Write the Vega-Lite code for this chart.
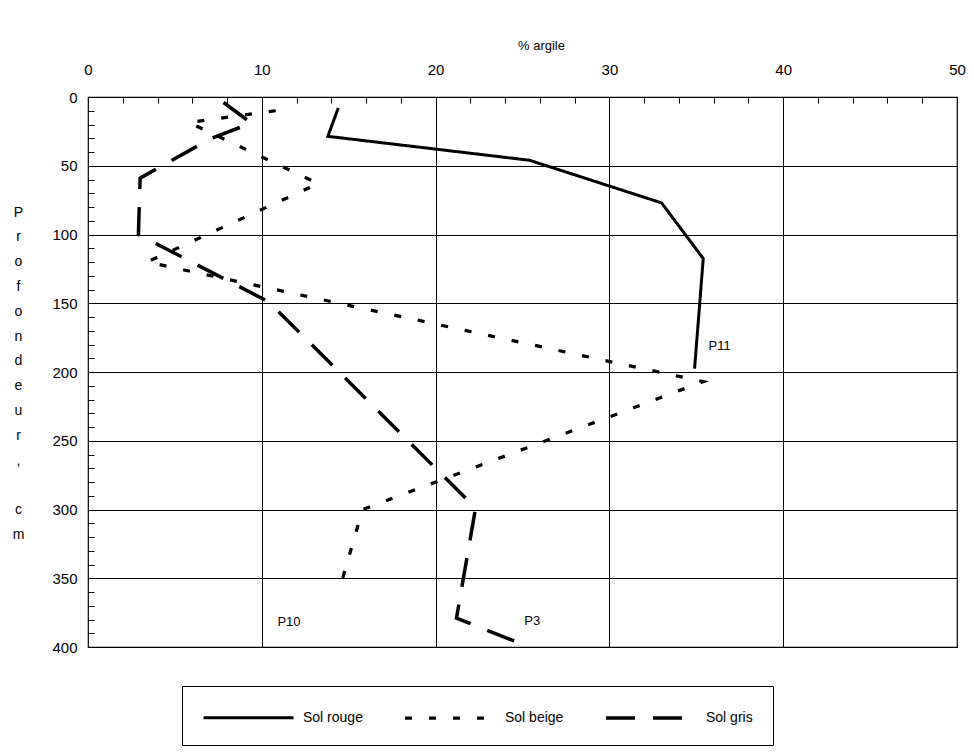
{
  "$schema": "https://vega.github.io/schema/vega-lite/v6.json",
  "autosize": {"type": "none"},
  "width": 869,
  "height": 550,
  "padding": {"left": 88, "top": 97, "right": 17, "bottom": 105},
  "background": "white",
  "config": {"view": {"stroke": "black", "strokeWidth": 1.2}, "font": "Liberation Sans"},
  "resolve": {"axis": {"x": "independent", "y": "independent"}},
  "layer": [
    {
      "data": {
        "values": [
          {"sol": "Sol rouge", "n": 1, "argile": 14.4, "profondeur": 8},
          {"sol": "Sol rouge", "n": 2, "argile": 13.8, "profondeur": 28.6},
          {"sol": "Sol rouge", "n": 3, "argile": 25.4, "profondeur": 46},
          {"sol": "Sol rouge", "n": 4, "argile": 33.0, "profondeur": 77},
          {"sol": "Sol rouge", "n": 5, "argile": 35.4, "profondeur": 117.5},
          {"sol": "Sol rouge", "n": 6, "argile": 34.9, "profondeur": 197.5},
          {"sol": "Sol beige", "n": 1, "argile": 10.8, "profondeur": 10},
          {"sol": "Sol beige", "n": 2, "argile": 5.8, "profondeur": 18.5},
          {"sol": "Sol beige", "n": 3, "argile": 13.25, "profondeur": 63},
          {"sol": "Sol beige", "n": 4, "argile": 3.4, "profondeur": 120},
          {"sol": "Sol beige", "n": 5, "argile": 35.4, "profondeur": 207},
          {"sol": "Sol beige", "n": 6, "argile": 15.8, "profondeur": 300},
          {"sol": "Sol beige", "n": 7, "argile": 14.4, "profondeur": 361},
          {"sol": "Sol gris", "n": 1, "argile": 7.8, "profondeur": 4},
          {"sol": "Sol gris", "n": 2, "argile": 9.4, "profondeur": 19},
          {"sol": "Sol gris", "n": 3, "argile": 7.1, "profondeur": 30},
          {"sol": "Sol gris", "n": 4, "argile": 3.0, "profondeur": 59},
          {"sol": "Sol gris", "n": 5, "argile": 2.9, "profondeur": 100},
          {"sol": "Sol gris", "n": 6, "argile": 10.4, "profondeur": 149},
          {"sol": "Sol gris", "n": 7, "argile": 22.3, "profondeur": 299},
          {"sol": "Sol gris", "n": 8, "argile": 21.2, "profondeur": 379},
          {"sol": "Sol gris", "n": 9, "argile": 24.9, "profondeur": 397.5}
        ]
      },
      "mark": {"type": "line", "strokeCap": "butt", "strokeJoin": "miter", "color": "black"},
      "encoding": {
        "x": {
          "field": "argile",
          "type": "quantitative",
          "scale": {"domain": [0, 50], "nice": false, "zero": false},
          "axis": {
            "orient": "top",
            "values": [0, 2, 4, 6, 8, 10, 12, 14, 16, 18, 20, 22, 24, 26, 28, 30, 32, 34, 36, 38, 40, 42, 44, 46, 48, 50],
            "labelExpr": "datum.value % 10 === 0 ? datum.label : ''",
            "grid": true,
            "gridColor": "black",
            "gridWidth": 1,
            "gridOpacity": {"condition": {"test": "datum.value % 10 === 0 && datum.value > 0 && datum.value < 50", "value": 1}, "value": 0},
            "tickSize": -6,
            "tickColor": "black",
            "tickWidth": 1,
            "domain": false,
            "labelFontSize": 15,
            "labelColor": "black",
            "labelFont": "Liberation Sans",
            "labelPadding": 26,
            "labelOverlap": false,
            "labelBound": false,
            "labelFlush": false,
            "title": "% argile",
            "titleFontSize": 13,
            "titleFontWeight": "normal",
            "titleFont": "Liberation Sans",
            "titleColor": "black",
            "titleX": 453,
            "titleY": -52,
            "titleAlign": "center",
            "titleBaseline": "middle"
          }
        },
        "y": {
          "field": "profondeur",
          "type": "quantitative",
          "scale": {"domain": [0, 400], "reverse": true, "nice": false, "zero": false},
          "axis": {
            "orient": "left",
            "values": [0, 10, 20, 30, 40, 50, 60, 70, 80, 90, 100, 110, 120, 130, 140, 150, 160, 170, 180, 190, 200, 210, 220, 230, 240, 250, 260, 270, 280, 290, 300, 310, 320, 330, 340, 350, 360, 370, 380, 390, 400],
            "labelExpr": "datum.value % 50 === 0 ? datum.label : ''",
            "grid": true,
            "gridColor": "black",
            "gridWidth": 1,
            "gridOpacity": {"condition": {"test": "datum.value % 50 === 0 && datum.value > 0 && datum.value < 400", "value": 1}, "value": 0},
            "tickSize": -6,
            "tickColor": "black",
            "tickWidth": 1,
            "domain": false,
            "labelFontSize": 15,
            "labelColor": "black",
            "labelFont": "Liberation Sans",
            "labelPadding": 17,
            "labelOverlap": false,
            "labelBound": false,
            "labelFlush": false,
            "title": ["P", "r", "o", "f", "o", "n", "d", "e", "u", "r", ",", "\u200b", "c", "m"],
            "titleAngle": 0,
            "titleFontSize": 14,
            "titleFontWeight": "normal",
            "titleFont": "Liberation Sans",
            "titleColor": "black",
            "titleX": -70,
            "titleY": 108,
            "titleAlign": "center",
            "titleBaseline": "top",
            "titleLineHeight": 24.8
          }
        },
        "order": {"field": "n", "type": "quantitative"},
        "strokeDash": {
          "field": "sol",
          "type": "nominal",
          "scale": {"domain": ["Sol rouge", "Sol beige", "Sol gris"], "range": [[1, 0], [7, 17], [29, 18]]},
          "legend": {
            "title": null,
            "orient": "none",
            "legendX": 94,
            "legendY": 589,
            "direction": "horizontal",
            "strokeColor": "black",
            "padding": 20,
            "columnPadding": 35,
            "symbolType": "M-1,0H8",
            "symbolSize": 400,
            "symbolStrokeWidth": 3,
            "symbolStrokeColor": "black",
            "labelFontSize": 14,
            "labelFont": "Liberation Sans",
            "labelColor": "black",
            "labelOffset": 78
          }
        },
        "strokeWidth": {
          "field": "sol",
          "type": "nominal",
          "scale": {"domain": ["Sol rouge", "Sol beige", "Sol gris"], "range": [3, 3.5, 2.5]},
          "legend": null
        }
      }
    },
    {
      "data": {
        "values": [
          {"etiquette": "P11", "argile": 35.7, "profondeur": 181},
          {"etiquette": "P10", "argile": 10.9, "profondeur": 382},
          {"etiquette": "P3", "argile": 25.1, "profondeur": 381}
        ]
      },
      "mark": {"type": "text", "align": "left", "baseline": "middle", "fontSize": 13, "font": "Liberation Sans", "color": "black"},
      "encoding": {
        "x": {"field": "argile", "type": "quantitative", "axis": null},
        "y": {"field": "profondeur", "type": "quantitative", "axis": null},
        "text": {"field": "etiquette", "type": "nominal"}
      }
    }
  ]
}
